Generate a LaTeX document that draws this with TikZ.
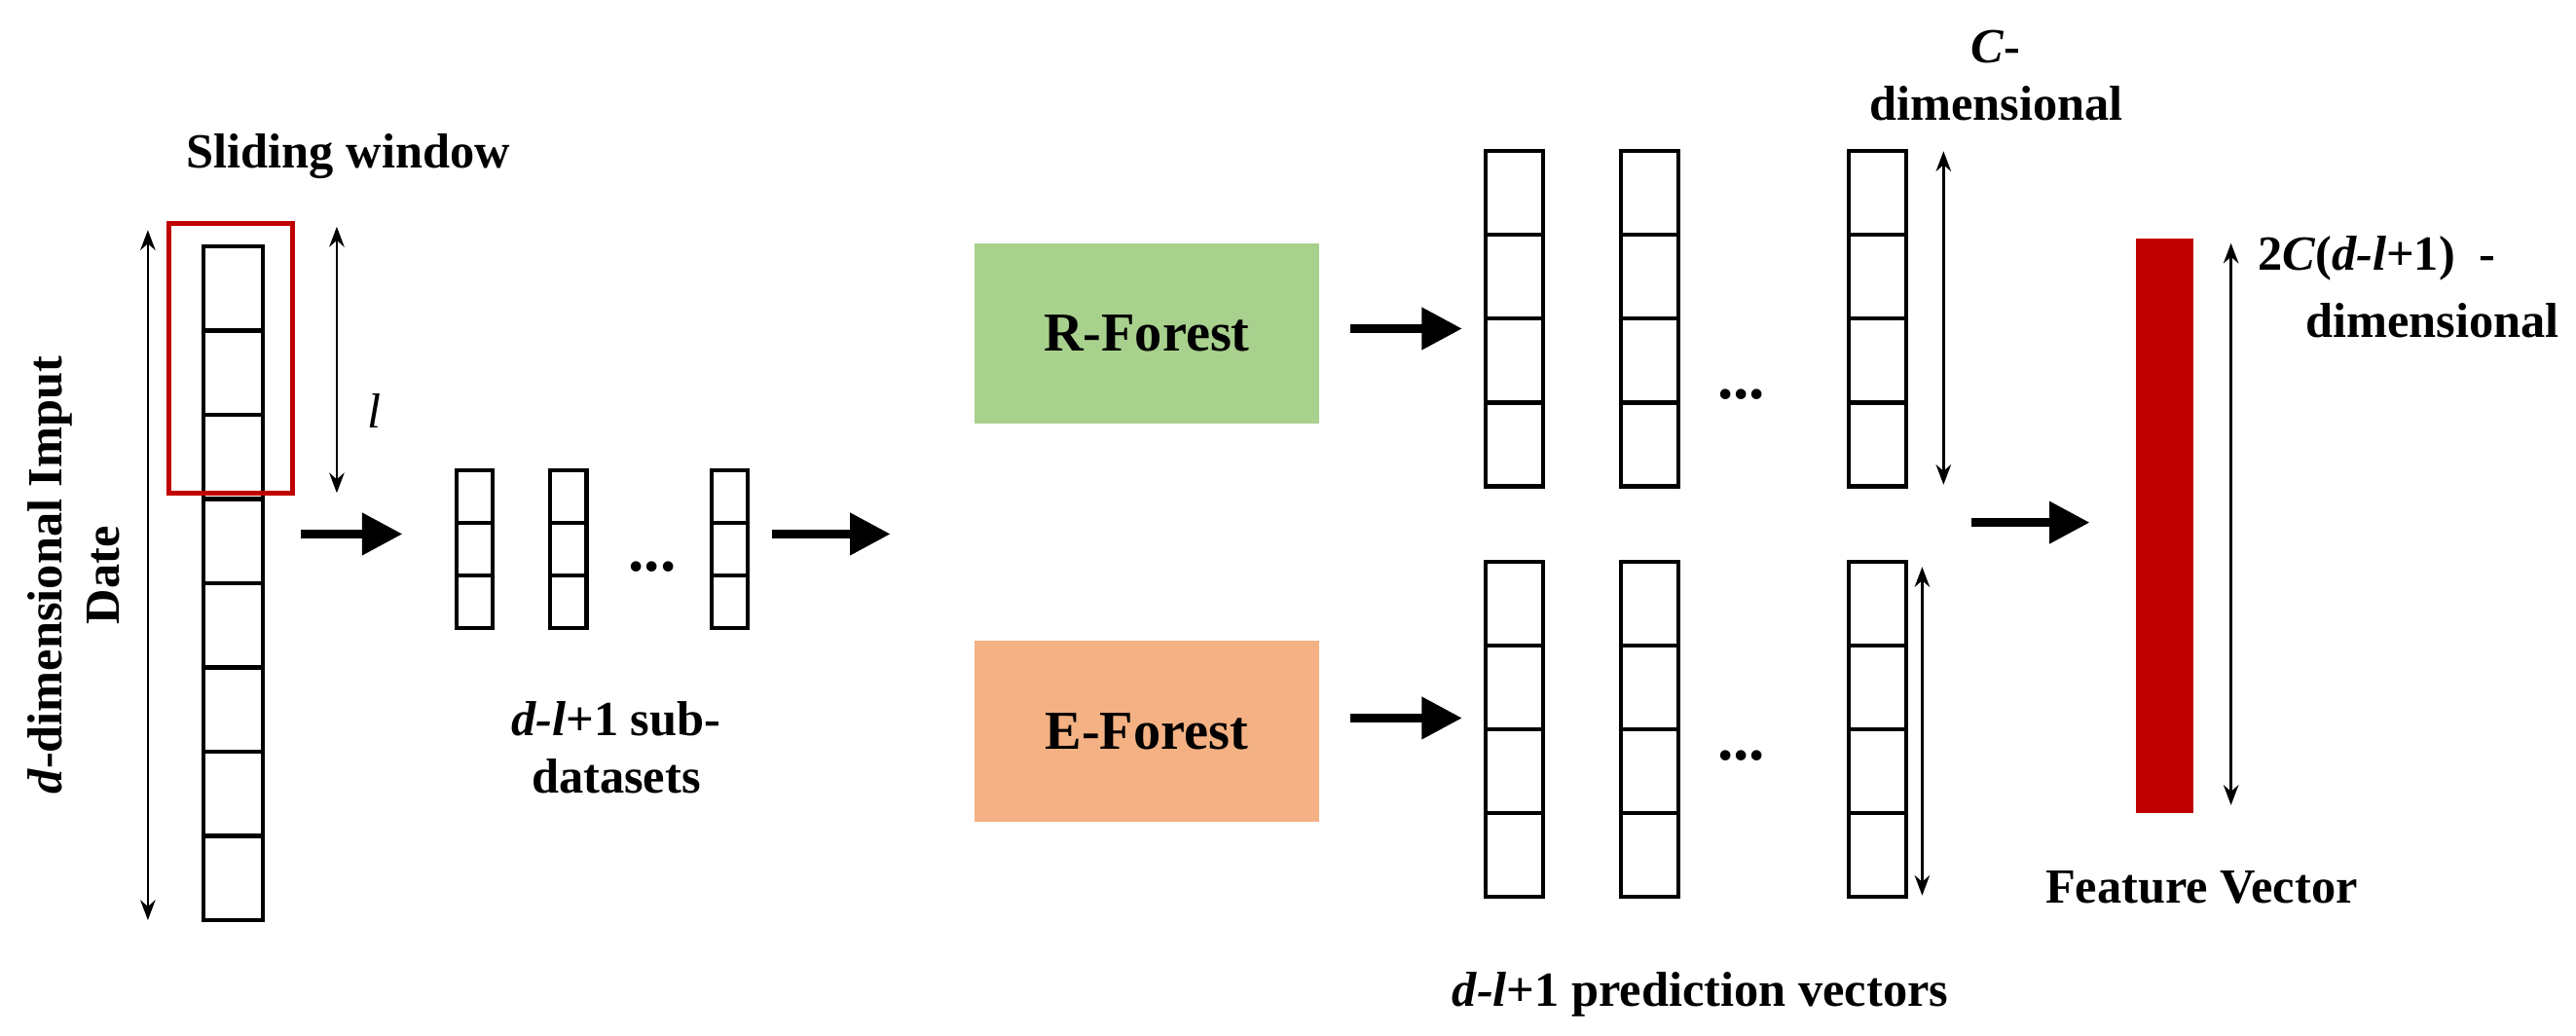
\documentclass[tikz,border=0pt]{standalone}
\usepackage{fontspec}
\setmainfont{Liberation Serif}
\usepackage{xcolor}
\usetikzlibrary{calc}
\usetikzlibrary{arrows.meta}
\definecolor{rgreen}{HTML}{A9D18E}
\definecolor{eorange}{HTML}{F4B183}
\definecolor{fred}{HTML}{C00000}
\tikzset{
  cell/.style={draw,line width=1.4pt,minimum width=#1,inner sep=0pt,outer sep=0pt},
  big/.style={-{Triangle[length=14pt,width=14pt]},line width=3pt},
  dim/.style={{Stealth[length=7pt]}-{Stealth[length=7pt]},line width=0.8pt},
  lbl/.style={font=\fontsize{17}{20}\selectfont\bfseries,align=center},
  dots/.style={font=\fontsize{22}{22}\selectfont\bfseries},
  forest/.style={minimum width=4.2cm,minimum height=2.2cm,inner sep=0pt,font=\fontsize{19}{22}\selectfont\bfseries}
}
\begin{document}
\begin{tikzpicture}[x=0.02cm,y=-0.02cm]
  \useasboundingbox (0,0) rectangle (1568,630);
  % input column
  \foreach \i in {0,...,7}
    \node[cell=0.72cm,minimum height=1.02cm,anchor=north] (in\i) at (142,150+51.25*\i) {};
  \draw[fred,line width=1.6pt] (103,136) rectangle (178,300);
  \coordinate (ltop) at (90,140);
  \coordinate (lbot) at (90,560);
  \draw[dim] (ltop) -- (lbot);
  \node[lbl,rotate=90] (inlbl) at (45,350) {\textit{d}-dimensional Imput\\Date};
  \coordinate (wtop) at (205,138);
  \coordinate (wbot) at (205,300);
  \draw[dim] (wtop) -- (wbot);
  \node[font=\fontsize{17}{20}\selectfont\itshape] (l) at (228,250) {l};
  \node[lbl] (sw) at (212,95) {Sliding window};
  % sub-datasets
  \foreach \c/\x in {a/289,b/346,c/444}
    \foreach \i in {0,1,2}
      \node[cell=0.44cm,minimum height=0.64cm,anchor=north] (s\c\i) at (\x,286+32*\i) {};
  \node[dots] (sdots) at (397,345) {...};
  \node[lbl] (sublbl) at (375,455) {\textit{d-l}+1 sub-\\datasets};
  \draw[big] (183,325) -- (245,325);
  \draw[big] (470,325) -- (542,325);
  % forests
  \node[forest,fill=rgreen] (rf) at (698,203) {R-Forest};
  \node[forest,fill=eorange] (ef) at (698,445) {E-Forest};
  \draw[big] (822,200) -- (890,200);
  \draw[big] (822,437) -- (890,437);
  % prediction vectors
  \foreach \c/\x in {a/922,b/1004,c/1143}{
    \foreach \i in {0,...,3}{
      \node[cell=0.7cm,minimum height=1.02cm,anchor=north] (r\c\i) at (\x,92+51*\i) {};
      \node[cell=0.7cm,minimum height=1.02cm,anchor=north] (e\c\i) at (\x,342+51*\i) {};
    }
  }
  \node[dots] (rdots) at (1060,240) {...};
  \node[dots] (edots) at (1060,460) {...};
  \coordinate (ct) at (1183,92);
  \coordinate (cb) at (1183,295);
  \draw[dim] (ct) -- (cb);
  \coordinate (et) at (1170,345);
  \coordinate (eb) at (1170,545);
  \draw[dim] (et) -- (eb);
  \node[lbl] (clbl) at (1215,46) {\textit{C}-\\dimensional};
  \node[lbl] (plbl) at (1035,605) {\textit{d-l}+1 prediction vectors};
  \draw[big] (1200,318) -- (1272,318);
  % feature vector
  \fill[fred] (1300,145) rectangle (1335,495);
  \coordinate (ft) at (1358,148);
  \coordinate (fb) at (1358,490);
  \draw[dim] (ft) -- (fb);
  \node[lbl,anchor=west] (flbl1) at (1368,157) {2\textit{C}(\textit{d-l}+1)\enspace-};
  \node[lbl,anchor=east] (flbl2) at (1564,195) {dimensional};
  \node[lbl] (fv) at (1340,540) {Feature Vector};
\end{tikzpicture}
\end{document}
